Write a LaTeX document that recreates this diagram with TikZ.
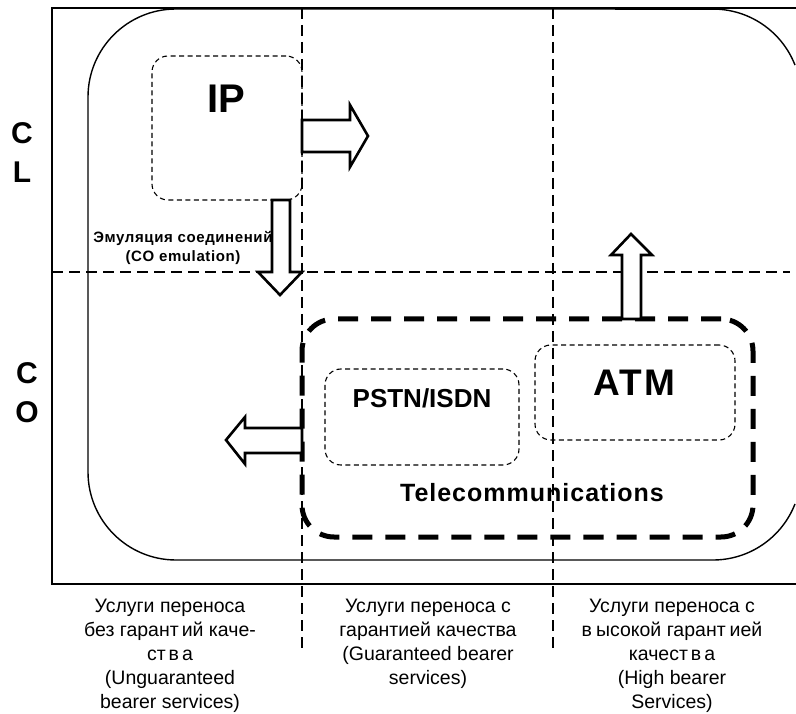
\documentclass[tikz,border=0pt]{standalone}
\usepackage{fontspec}
\setmainfont{Liberation Sans}
\begin{document}
\begin{tikzpicture}[x=1pt,y=-1pt,
  frame/.style={line width=1.6pt},
  gridline/.style={line width=1.3pt, dash pattern=on 11pt off 6pt},
  dotbox/.style={draw, line width=1.1pt, dash pattern=on 5pt off 3.5pt, rounded corners=16pt, inner sep=0pt},
  telebox/.style={draw, line width=5pt, dash pattern=on 20pt off 13pt, rounded corners=32pt, inner sep=0pt},
  blockarrow/.style={draw, line width=2.6pt, fill=white, line join=miter},
  axislbl/.style={inner sep=0pt, font=\fontsize{30}{30}\selectfont\bfseries},
  boxlbl/.style={inner sep=0pt, font=\bfseries},
  collbl/.style={inner sep=0pt, align=center, font=\fontsize{19.5}{24}\selectfont}
]
\useasboundingbox (0,0) rectangle (796,714);
\clip (0,0) rectangle (796,714);

% outer frame (open on the right)
\draw[frame] (800,8) -- (52,8) -- (52,584) -- (800,584);
% rounded region (its right side lies beyond the picture edge)
\draw[line width=1.4pt]
  (795,65.1) arc[start angle=-21.3, end angle=-90, radius=88]
  -- (176,9) arc[start angle=-90, end angle=-180, radius=88]
  -- (88,472) arc[start angle=180, end angle=90, radius=88]
  -- (713,560) arc[start angle=90, end angle=21.3, radius=88];

% grid lines
\draw[gridline] (302,8) -- (302,650);
\draw[gridline] (553,8) -- (553,648);
\draw[gridline] (52,272) -- (790,272);

% boxes
\node[dotbox, minimum width=150pt, minimum height=144pt] (ipbox) at (227,128) {};
\node[boxlbl, font=\fontsize{40}{40}\selectfont\bfseries] (iptext) at (226,99) {IP};

\node[telebox, minimum width=451pt, minimum height=218pt] (telebox) at (527.5,428) {};
\node[boxlbl, font=\fontsize{25}{26}\selectfont\bfseries\addfontfeatures{LetterSpace=4}] (teletext) at (532,493) {Telecommunications};

\node[dotbox, minimum width=194pt, minimum height=96pt] (pstnbox) at (422,417) {};
\node[boxlbl, font=\fontsize{26}{26}\selectfont\bfseries] (pstntext) at (422,398) {PSTN/ISDN};

\node[dotbox, minimum width=200pt, minimum height=95pt] (atmbox) at (635,392.5) {};
\node[boxlbl, font=\fontsize{37}{38}\selectfont\bfseries\addfontfeatures{LetterSpace=6}] (atmtext) at (634,383) {ATM};

% block arrows
\coordinate (ra) at (302,136);
\draw[blockarrow] (302,120) -- (350,120) -- (350,105) -- (368,136) -- (350,167) -- (350,152) -- (302,152) -- cycle;

\coordinate (da) at (281,200);
\draw[blockarrow] (272,200) -- (290,200) -- (290,272) -- (302,272) -- (280,295) -- (258,272) -- (272,272) -- cycle;

\coordinate (ua) at (631,319);
\draw[blockarrow] (622,319) -- (622,255) -- (611,255) -- (631,234) -- (652,255) -- (641,255) -- (641,319) -- cycle;

\coordinate (la) at (302,440);
\draw[blockarrow] (302,428) -- (245,428) -- (245,417) -- (226,440) -- (245,464) -- (245,453) -- (302,453) -- cycle;

% axis letters
\node[axislbl] (c1) at (22,133) {C};
\node[axislbl] (l1) at (22,172) {L};
\node[axislbl] (c2) at (27,373) {C};
\node[axislbl] (o2) at (27,412) {O};

% emulation label
\node[inner sep=0pt, align=center, font=\fontsize{15}{19}\selectfont\bfseries\addfontfeatures{LetterSpace=4}] (emu) at (183,248) {Эмуляция соединений\\(CO emulation)};

% column labels
\node[collbl] (col1) at (170,656) {Услуги переноса\\без гарант\kern3pt ий каче-\\ст\kern3pt в\kern3pt а\\(Unguaranteed\\bearer services)};
\node[collbl] (col2) at (428,644) {Услуги переноса с\\гарантией качества\\(Guaranteed bearer\\services)};
\node[collbl] (col3) at (672,656) {Услуги переноса с\\в\kern4pt ысокой гарант\kern4pt ией\\качест\kern3pt в\kern3pt а\\(High bearer\\Services)};
\end{tikzpicture}
\end{document}
